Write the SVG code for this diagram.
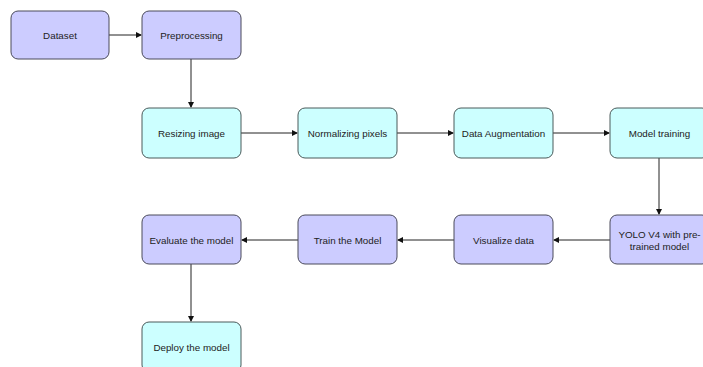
<svg xmlns="http://www.w3.org/2000/svg" width="703" height="367" viewBox="0 0 703 367">
<style>
.p{fill:#ccccff;stroke:#4a4a5a;stroke-width:1}
.c{fill:#ccffff;stroke:#4a5a5a;stroke-width:1}
text{font-family:"Liberation Sans",Arial,sans-serif;font-size:9.8px;fill:#222;text-anchor:middle;dominant-baseline:central}
.e{stroke:#222;stroke-width:1;fill:none;marker-end:url(#a)}
</style>
<defs>
<marker id="a" markerWidth="6" markerHeight="6" refX="5" refY="3" orient="auto" markerUnits="userSpaceOnUse">
<path d="M0,0 L6,3 L0,6 Z" fill="#111"/>
</marker>
</defs>
<rect width="703" height="367" fill="#fff"/>
<g id="connectors">
<path class="e" d="M109,35 H141"/>
<path class="e" d="M191,59 V107"/>
<path class="e" d="M241,133 H297"/>
<path class="e" d="M397,133 H453"/>
<path class="e" d="M553,133 H609"/>
<path class="e" d="M659,158 V214"/>
<path class="e" d="M610,240 H554"/>
<path class="e" d="M454,240 H398"/>
<path class="e" d="M298,240 H242"/>
<path class="e" d="M191,264 V321"/>
</g>
<g id="dataset"><rect class="p" x="11" y="11" width="98" height="48" rx="7"/><text x="60" y="35">Dataset</text></g>
<g id="preprocessing"><rect class="p" x="142" y="11" width="99" height="48" rx="7"/><text x="191.5" y="35">Preprocessing</text></g>
<g id="resizing"><rect class="c" x="142" y="108" width="99" height="50" rx="7"/><text x="191.5" y="133">Resizing image</text></g>
<g id="normalizing"><rect class="c" x="298" y="108" width="99" height="50" rx="7"/><text x="347.5" y="133">Normalizing pixels</text></g>
<g id="augmentation"><rect class="c" x="454" y="108" width="99" height="50" rx="7"/><text x="503.5" y="133">Data Augmentation</text></g>
<g id="training"><rect class="c" x="610" y="108" width="99" height="50" rx="7"/><text x="659.5" y="133">Model training</text></g>
<g id="yolo"><rect class="p" x="610" y="215" width="99" height="49" rx="7"/><text x="659.5" y="234">YOLO V4 with pre-</text><text x="659.5" y="246">trained model</text></g>
<g id="visualize"><rect class="p" x="454" y="215" width="99" height="49" rx="7"/><text x="503.5" y="240">Visualize data</text></g>
<g id="train"><rect class="p" x="298" y="215" width="99" height="49" rx="7"/><text x="347.5" y="240">Train the Model</text></g>
<g id="evaluate"><rect class="p" x="142" y="215" width="99" height="49" rx="7"/><text x="191.5" y="240">Evaluate the model</text></g>
<g id="deploy"><rect class="c" x="142" y="322" width="99" height="50" rx="7"/><text x="191.5" y="347">Deploy the model</text></g>
</svg>
